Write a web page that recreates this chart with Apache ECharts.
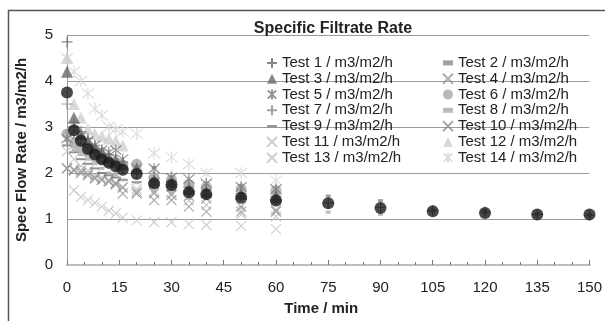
<!DOCTYPE html>
<html>
<head>
<meta charset="utf-8">
<script src="https://cdn.jsdelivr.net/npm/echarts@6/dist/echarts.min.js"></script>
<style>
  html, body { margin: 0; padding: 0; background: #fff; overflow: hidden; }
  #chart { width: 605px; height: 321px; }
</style>
</head>
<body>
<div id="chart"></div>
<script>
// sample times (min)
const timesShort = [0, 2, 4, 6, 8, 10, 12, 14, 16, 20, 25, 30, 35, 40, 50, 60];
const timesLong = [0, 2, 4, 6, 8, 10, 12, 14, 16, 20, 25, 30, 35, 40, 50, 60, 75, 90, 105, 120, 135, 150];

// spec flow rate, m3/m2/h
const test1 = [4.85, 3.0, 2.75, 2.55, 2.45, 2.35, 2.25, 2.15, 2.1, 2.0, 1.8, 1.75, 1.6, 1.55, 1.5, 1.42, 1.35, 1.25, 1.18, 1.15, 1.1, 1.08];
const test2 = [2.9, 2.75, 2.6, 2.5, 2.4, 2.3, 2.25, 2.2, 2.15, 2.05, 2.12, 1.85, 1.7, 1.73, 1.73, 1.55, 1.5, 1.4, 1.2, 1.18, 1.12, 1.1];
const test3 = [4.2, 3.2, 2.85, 2.7, 2.55, 2.45, 2.35, 2.3, 2.2, 2.1, 1.85, 1.8, 1.65, 1.6, 1.55, 1.5];
const test4 = [2.1, 2.08, 2.05, 1.98, 1.9, 1.85, 1.82, 1.75, 1.68, 1.59, 1.56, 1.52, 1.27, 1.16, 1.16, 1.2];
const test5 = [2.75, 2.9, 2.8, 2.7, 2.6, 2.5, 2.45, 2.5, 2.3, 2.1, 2.1, 1.9, 1.87, 1.77, 1.7, 1.65];
const test6 = [2.85, 2.65, 2.55, 2.45, 2.35, 2.3, 2.25, 2.2, 2.15, 2.19, 1.9, 1.85, 1.75, 1.7, 1.65, 1.62];
const test7 = [3.5, 3.1, 2.9, 2.75, 2.6, 2.5, 2.4, 2.3, 2.25, 2.05, 1.9, 1.8, 1.7, 1.65, 1.55, 1.5];
const test8 = [2.7, 2.5, 2.4, 2.3, 2.2, 2.1, 2.0, 1.95, 1.85, 1.79, 1.6, 1.56, 1.45, 1.45, 1.25, 1.17, 1.15, 1.1, 1.15, 1.12, 1.08, 1.06];
const test9 = [2.6, 2.45, 2.3, 2.2, 2.1, 2.0, 1.95, 1.9, 1.85, 1.8, 1.7, 1.62, 1.55, 1.5, 1.45, 1.35];
const test10 = [2.1, 2.05, 2.0, 1.95, 1.88, 1.85, 1.82, 1.78, 1.55, 1.55, 1.41, 1.41, 1.5, 1.45, 1.27, 1.16];
const test11 = [2.47, 2.3, 2.15, 2.05, 1.95, 1.9, 1.85, 1.78, 1.7, 1.65, 1.6, 1.55, 1.4, 1.3, 1.1, 1.05];
const test12 = [4.5, 3.5, 3.2, 2.95, 2.85, 2.8, 2.75, 2.7, 2.6, 2.2, 2.0, 1.95, 1.8, 1.75, 1.7, 1.65];
const test13 = [2.1, 1.62, 1.48, 1.41, 1.35, 1.27, 1.18, 1.12, 1.03, 0.97, 0.93, 0.93, 0.89, 0.87, 0.85, 0.78];
const test14 = [4.5, 4.2, 4.0, 3.73, 3.4, 3.25, 3.0, 2.95, 2.9, 2.85, 2.43, 2.34, 2.19, 1.99, 2.0, 1.84];
const average = [3.75, 2.93, 2.70, 2.52, 2.40, 2.30, 2.22, 2.14, 2.07, 1.98, 1.77, 1.74, 1.58, 1.54, 1.46, 1.40, 1.34, 1.24, 1.17, 1.13, 1.10, 1.10];

const xTicks = [0, 15, 30, 45, 60, 75, 90, 105, 120, 135, 150];
const yTicks = [0, 1, 2, 3, 4, 5];

const FONT = 'Liberation Sans';
const PLUS = 'path://M5,0L5,10M0,5L10,5';
const CROSS = 'path://M0,0L10,10M10,0L0,10';
const STAR = 'path://M0,0L10,10M10,0L0,10M5,-1L5,11';
const SMALL_DASH = 'path://M0,0h6v3h-6z';
const LONG_DASH = 'path://M0,0h10v2h-10z';

function pairs(xs, ys) {
    return ys.map((v, i) => [xs[i], v]);
}

function lineMark(name, xs, ys, symbol, color, size, width) {
    return {
        name: name, type: 'scatter', data: pairs(xs, ys),
        symbol: symbol, symbolSize: size,
        itemStyle: {color: 'rgba(0,0,0,0)', borderColor: color, borderWidth: width || 1.2},
        emphasis: {disabled: true}
    };
}

function fillMark(name, xs, ys, symbol, color, size) {
    return {
        name: name, type: 'scatter', data: pairs(xs, ys),
        symbol: symbol, symbolSize: size,
        itemStyle: {color: color},
        emphasis: {disabled: true}
    };
}

const unit = ' / m3/m2/h';
const defs = {
    1: lineMark('Test 1' + unit, timesLong, test1, PLUS, '#666', 11),
    2: fillMark('Test 2' + unit, timesLong, test2, 'rect', '#8a8a8a', [5, 3]),
    3: fillMark('Test 3' + unit, timesShort, test3, 'triangle', '#6a6a6a', 12),
    4: lineMark('Test 4' + unit, timesShort, test4, CROSS, '#9a9a9a', 10),
    5: lineMark('Test 5' + unit, timesShort, test5, STAR, '#7a7a7a', 11),
    6: fillMark('Test 6' + unit, timesShort, test6, 'circle', '#a8a8a8', 11),
    7: lineMark('Test 7' + unit, timesShort, test7, PLUS, '#8a8a8a', 11),
    8: fillMark('Test 8' + unit, timesLong, test8, 'rect', '#aaaaaa', [5, 3]),
    9: fillMark('Test 9' + unit, timesShort, test9, 'rect', '#777', [10, 2]),
    10: lineMark('Test 10' + unit, timesShort, test10, CROSS, '#8e8e8e', 10),
    11: lineMark('Test 11' + unit, timesShort, test11, CROSS, '#bdbdbd', 10),
    12: fillMark('Test 12' + unit, timesShort, test12, 'triangle', '#cfcfcf', 12),
    13: lineMark('Test 13' + unit, timesShort, test13, CROSS, '#c4c4c4', 10),
    14: lineMark('Test 14' + unit, timesShort, test14, STAR, '#d6d6d6', 12)
};
const legendIcons = {2: SMALL_DASH, 8: SMALL_DASH, 9: LONG_DASH};

// light series at the back, the mean on top
const drawOrder = [14, 13, 11, 12, 10, 4, 9, 8, 2, 7, 6, 5, 3, 1];
const series = drawOrder.map(k => defs[k]);
series.push({
    name: 'Average', type: 'scatter', data: pairs(timesLong, average),
    symbol: 'circle', symbolSize: 12, itemStyle: {color: '#1a1a1a'},
    emphasis: {disabled: true}
});

function legendFor(keys, left) {
    return {
        orient: 'vertical', left: left, top: 50,
        itemWidth: 10, itemHeight: 10, itemGap: 0,
        data: keys.map(k => legendIcons[k] ? {name: defs[k].name, icon: legendIcons[k]} : defs[k].name),
        textStyle: {fontFamily: FONT, fontSize: 15, color: '#222', lineHeight: 15.8},
        selectedMode: false
    };
}

const chart = echarts.init(document.getElementById('chart'), null, {renderer: 'canvas'});
chart.setOption({
    animation: false,
    backgroundColor: '#fff',
    title: {
        text: 'Specific Filtrate Rate', left: 328, top: 16, textAlign: 'center',
        textStyle: {fontFamily: FONT, fontSize: 16, fontWeight: 'bold', color: '#222'}
    },
    legend: [legendFor([1, 3, 5, 7, 9, 11, 13], 261), legendFor([2, 4, 6, 8, 10, 12, 14], 437)],
    grid: {left: 67, right: 13, top: 35, bottom: 49, containLabel: false},
    xAxis: {
        type: 'value', min: 0, max: 150, interval: 15,
        name: 'Time / min', nameLocation: 'middle', nameGap: 36,
        nameTextStyle: {fontFamily: FONT, fontSize: 15, fontWeight: 'bold', color: '#222', padding: [0, 14, 0, 0]},
        axisLine: {lineStyle: {color: '#bdbdbd', width: 2}},
        axisTick: {show: true, inside: true, length: 5, lineStyle: {color: '#777'}},
        minorTick: {show: true, splitNumber: 3, length: 3, lineStyle: {color: '#777'}},
        axisLabel: {
            fontFamily: FONT, fontSize: 15, color: '#222', margin: 15,
            formatter: v => xTicks.includes(v) ? String(v) : ''
        },
        splitLine: {show: false}
    },
    yAxis: {
        type: 'value', min: 0, max: 5, interval: 1,
        name: 'Spec Flow Rate / m3/m2/h', nameLocation: 'middle', nameGap: 38,
        nameTextStyle: {fontFamily: FONT, fontSize: 15, fontWeight: 'bold', color: '#222'},
        axisLine: {show: true, lineStyle: {color: '#999', width: 1}},
        axisTick: {show: false},
        axisLabel: {
            fontFamily: FONT, fontSize: 15, color: '#222', margin: 14,
            formatter: v => yTicks.includes(v) ? String(v) : ''
        },
        splitLine: {lineStyle: {color: '#9a9a9a', width: 1}}
    },
    // chart frame: only its left and top edges fall inside the picture
    graphic: [{
        type: 'polyline', silent: true, z: 100,
        shape: {points: [[8.5, 321], [8.5, 10.5], [605, 10.5]]},
        style: {fill: 'none', stroke: '#555', lineWidth: 1.5}
    }],
    series: series
});
</script>
</body>
</html>
